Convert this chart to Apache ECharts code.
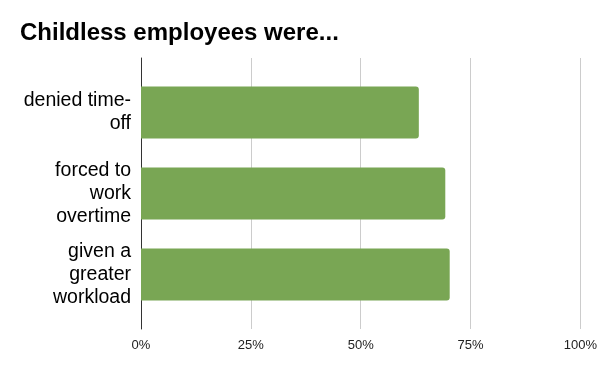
<!DOCTYPE html>
<html><head><meta charset="utf-8">
<script src="https://cdn.jsdelivr.net/npm/echarts@6/dist/echarts.min.js"></script>
<style>html,body{margin:0;padding:0;background:#fff}#c{width:600px;height:371px}</style>
</head><body><div id="c"></div>
<script>
const title = 'Childless employees were...';
const categories = ['denied time-\noff', 'forced to\nwork\novertime', 'given a\ngreater\nworkload'];
const values = [63, 69, 70];
const tickMin = 0, tickMax = 100, tickStep = 25;

const chart = echarts.init(document.getElementById('c'), null, {renderer: 'canvas'});
const font = 'Liberation Sans, Arial, sans-serif';
chart.setOption({
  animation: false,
  title: {text: title, left: 15, top: 16, textStyle: {fontFamily: font, fontSize: 24, fontWeight: 'bold', color: '#000'}},
  grid: [
    {left: 141, right: 18, top: 72, bottom: 56},
    {left: 141, right: 18, top: 58, bottom: 42}
  ],
  xAxis: [
    {gridIndex: 0, type: 'value', min: tickMin, max: tickMax, interval: tickStep, show: false},
    {gridIndex: 1, type: 'value', min: tickMin, max: tickMax, interval: tickStep,
     axisLine: {show: false}, axisTick: {show: false},
     splitLine: {show: true, lineStyle: {color: '#cccccc', width: 1}},
     axisLabel: {formatter: '{value}%', fontFamily: font, fontSize: 13, color: '#222', margin: 10}}
  ],
  yAxis: [
    {gridIndex: 0, type: 'category', data: categories, inverse: true,
     axisLine: {show: false}, axisTick: {show: false},
     axisLabel: {fontFamily: font, fontSize: 19.5, color: '#000', lineHeight: 23, margin: 10, align: 'right'}},
    {gridIndex: 1, type: 'category', data: categories, inverse: true,
     axisLine: {show: true, lineStyle: {color: '#333', width: 1}}, axisTick: {show: false},
     axisLabel: {show: false}, splitLine: {show: false}}
  ],
  series: [{
    type: 'bar', xAxisIndex: 0, yAxisIndex: 0, data: values, barWidth: 52,
    itemStyle: {color: '#79a654', borderRadius: [0, 3, 3, 0]}
  }]
});
</script></body></html>
